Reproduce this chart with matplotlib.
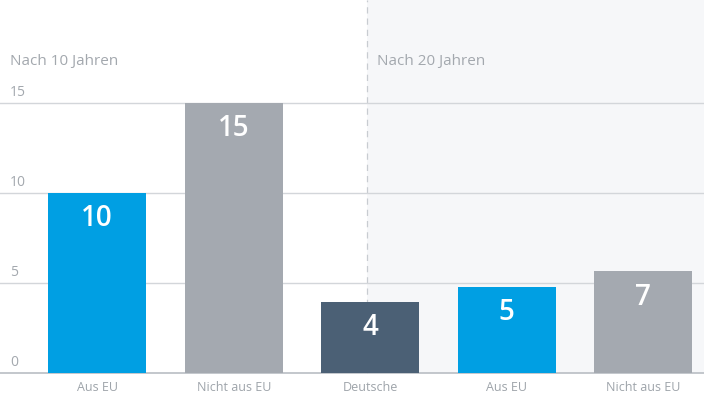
import matplotlib
matplotlib.use("Agg")
import matplotlib.pyplot as plt

# Werte
kategorien = ["Aus EU", "Nicht aus EU", "Deutsche", "Aus EU", "Nicht aus EU"]
hoehen = [10, 15, 3.95, 4.8, 5.65]
beschriftung = ["10", "15", "4", "5", "7"]
farben = ["#009fe3", "#a4a9b0", "#4b6075", "#009fe3", "#a4a9b0"]
y_ticks = [0, 5, 10, 15]
gruppen = ["Nach 10 Jahren", "Nach 20 Jahren"]

plt.rcParams["font.family"] = ["Open Sans", "DejaVu Sans"]

fig = plt.figure(figsize=(7.04, 3.96), dpi=100)
ax = fig.add_axes([0, 0, 1, 1])
x_min, x_max = -0.712, 4.445
y_min, y_max = -1.28, 20.72
ax.set_xlim(x_min, x_max)
ax.set_ylim(y_min, y_max)
ax.axis("off")

# Hintergrund fuer "Nach 20 Jahren" (nur oberhalb der Nulllinie)
null_anteil = -y_min / (y_max - y_min)
ax.axvspan(1.98, x_max, ymin=null_anteil, ymax=1, color="#f6f7f9", zorder=0, lw=0)
ax.axvline(1.98, ymin=null_anteil, ymax=1, color="#c8ccd1", lw=0.9,
           ls=(0, (5, 4)), zorder=1)

# Gitterlinien
for t in y_ticks:
    ax.axhline(t, color="#b9bec4" if t == 0 else "#d3d6da",
               lw=1.2 if t == 0 else 1.0, zorder=1)
    ax.annotate(str(t), xy=(10 / 704, t), xycoords=("axes fraction", "data"),
                xytext=(0, 3), textcoords="offset pixels",
                ha="left", va="bottom", fontsize=10, color="#a3a8ae")

x = list(range(len(kategorien)))
ax.bar(x, hoehen, width=0.718, color=farben, zorder=2)

for i, h in enumerate(hoehen):
    ax.annotate(beschriftung[i], xy=(i, h), xytext=(0, -26), textcoords="offset pixels",
                ha="center", va="center", fontsize=20, fontweight="semibold",
                color="white", zorder=3)
    ax.text(i, -0.8, kategorien[i], ha="center", va="center",
            fontsize=9, color="#9ea4aa")

ax.text(10 / 704, 1 - 65 / 396, gruppen[0], transform=ax.transAxes,
        ha="left", va="baseline", fontsize=11, color="#a3a8ae")
ax.text(377 / 704, 1 - 65 / 396, gruppen[1], transform=ax.transAxes,
        ha="left", va="baseline", fontsize=11, color="#a3a8ae")

fig.savefig("out.png", dpi=100)
